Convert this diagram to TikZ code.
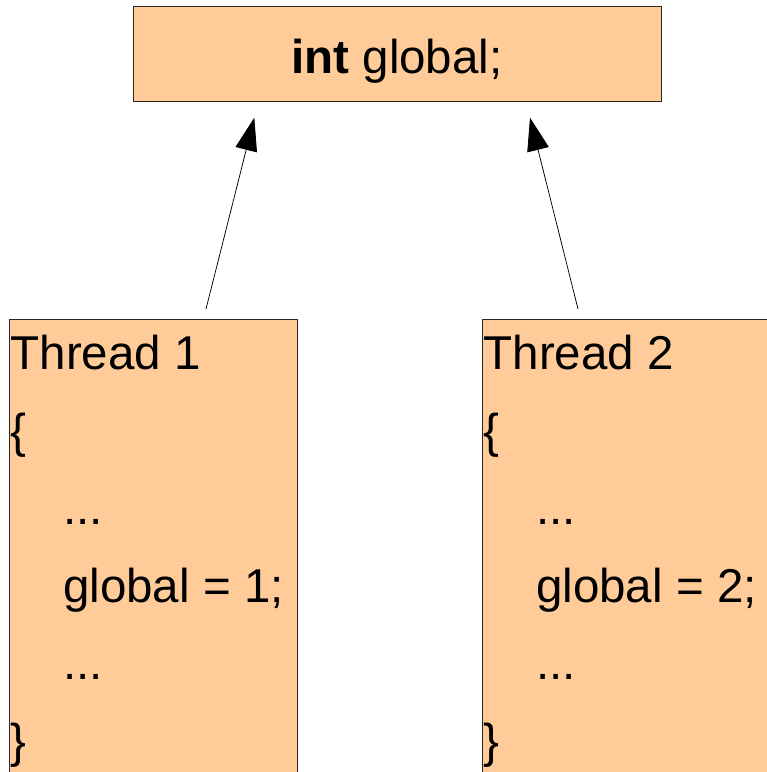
\documentclass[tikz,border=0pt]{standalone}
\usepackage{fontspec}
\setmainfont{Liberation Sans}
\usepackage{tikz}
\usetikzlibrary{arrows.meta}
\definecolor{varfill}{RGB}{255,204,153}
\newcommand{\codesize}{\fontsize{47.5}{57}\selectfont}

\begin{document}
\begin{tikzpicture}[x=1pt,y=1pt,yscale=-1,xscale=1,
  varbox/.style={draw=black!85,fill=varfill,line width=0.75pt,inner sep=0pt},
  codeline/.style={anchor=base west,inner sep=0pt,font=\codesize},
  link/.style={-{Triangle[length=33pt,width=22pt]},line width=0.75pt}]
\useasboundingbox (0,0) rectangle (767,772);
\clip (0,0) rectangle (767,772);

%Shape: Rectangle [global variable]
\node [varbox,minimum width=528pt,minimum height=95pt] (globalbox) at (397,53.5) {};
%Shape: Rectangle [thread 1]
\node [varbox,minimum width=288pt,minimum height=481pt] (threadone) at (153,559.5) {};
%Shape: Rectangle [thread 2]
\node [varbox,minimum width=318pt,minimum height=481pt] (threadtwo) at (641,559.5) {};

% Text Node
\node [codeline,anchor=base] (globaldecl) at (397,73) {\textbf{int} global;};
% Text Node
\node [codeline] (onehead) at (10.5,369.5) {Thread 1};
\node [codeline] (oneopen) at (10,447) {\{};
\node [codeline] (onedotsa) at (63,524.5) {...};
\node [codeline] (oneset) at (63,602) {global = 1;};
\node [codeline] (onedotsb) at (63,679.5) {...};
\node [codeline] (oneclose) at (10,757) {\}};
% Text Node
\node [codeline] (twohead) at (483.5,369.5) {Thread 2};
\node [codeline] (twoopen) at (483,447) {\{};
\node [codeline] (twodotsa) at (536,524.5) {...};
\node [codeline] (twoset) at (536,602) {global = 2;};
\node [codeline] (twodotsb) at (536,679.5) {...};
\node [codeline] (twoclose) at (483,757) {\}};

%Straight Lines [write from thread 1]
\coordinate (onefoot) at (206,309);
\coordinate (onetip) at (254.3,117.7);
\draw [link] (onefoot) -- (onetip);
%Straight Lines [write from thread 2]
\coordinate (twofoot) at (578,309);
\coordinate (twotip) at (530,117.7);
\draw [link] (twofoot) -- (twotip);

\end{tikzpicture}
\end{document}
